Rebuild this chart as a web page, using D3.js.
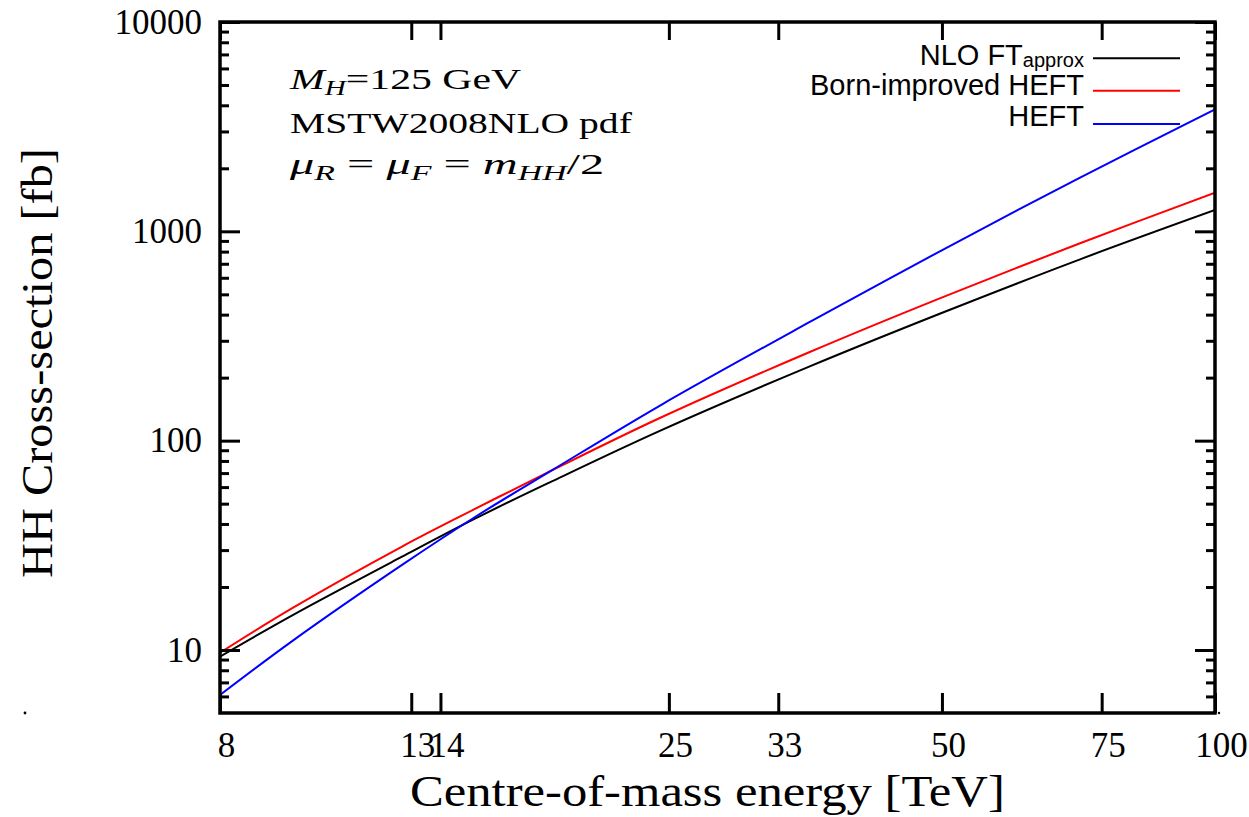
<!DOCTYPE html>
<html>
<head>
<meta charset="utf-8">
<script src="https://cdn.jsdelivr.net/npm/d3@7"></script>
<style>
  html, body { margin: 0; padding: 0; background: #fff; }
  svg { display: block; }
</style>
</head>
<body>
<svg id="chart" width="1249" height="817"></svg>
<script>
// ---------------- data ----------------
const energies      = [8, 9.6, 12.7, 15.3, 18.55, 24.5, 35.8, 49.8, 71, 100];       // TeV
const nloFTapprox   = [9.3, 14.6, 27.9, 42.5, 63.7, 112, 227, 405, 735, 1264];      // fb
const bornImproved  = [9.7, 15.8, 31.2, 47.3, 71.9, 129, 266, 480, 877, 1530];      // fb
const heft          = [6.1, 11.0, 25.5, 43.3, 71.9, 148, 370, 805, 1806, 3828];     // fb

const xTickValues = [8, 13, 14, 25, 33, 50, 75, 100];
const yMajorTicks = [10, 100, 1000, 10000];
const yMinorTicks = [6, 7, 8, 9, 20, 30, 40, 50, 60, 70, 80, 90,
                     200, 300, 400, 500, 600, 700, 800, 900,
                     2000, 3000, 4000, 5000, 6000, 7000, 8000, 9000];

const seriesNames  = ["NLO FT", "Born-improved HEFT", "HEFT"];
const seriesColors = ["#000000", "#ff0000", "#0000ff"];
const seriesValues = [nloFTapprox, bornImproved, heft];

// ---------------- layout ----------------
const L = 220, R = 1215, T = 22, B = 713;
const serif = "'Liberation Serif', 'Times New Roman', serif";
const sans  = "'Liberation Sans', Arial, sans-serif";

const svg = d3.select("#chart");
const x = d3.scaleLog().domain([8, 100]).range([L, R]);
const y = d3.scaleLog().domain([5, 10000]).range([B, T]);

function fitWidth(node, w, ax) {
  const cur = node.getBBox().width;
  const s = w / cur;
  d3.select(node).attr("transform", `translate(${ax},0) scale(${s},1) translate(${-ax},0)`);
}

svg.append("defs").append("clipPath").attr("id", "plot")
  .append("rect").attr("x", L).attr("y", T).attr("width", R - L).attr("height", B - T);

// ---------------- curves ----------------
const line = d3.line()
  .x(d => x(d[0]))
  .y(d => y(d[1]))
  .curve(d3.curveCatmullRom.alpha(0.5));

const curves = svg.append("g").attr("clip-path", "url(#plot)");
seriesValues.forEach((vals, i) => {
  curves.append("path")
    .datum(energies.map((e, j) => [e, vals[j]]))
    .attr("d", line)
    .attr("fill", "none")
    .attr("stroke", seriesColors[i])
    .attr("stroke-width", 2);
});

// ---------------- axes ----------------
const axStyle = g => {
  g.select(".domain").remove();
  g.selectAll(".tick line").attr("stroke", "#000").attr("stroke-width", 3);
};

const gB = svg.append("g").attr("transform", `translate(0,${B})`)
  .call(d3.axisBottom(x).tickValues(xTickValues).tickFormat(d3.format("d")).tickSize(-20).tickPadding(19))
  .call(axStyle);
gB.selectAll(".tick text")
  .attr("font-family", serif).attr("font-size", 35).attr("fill", "#000").attr("x", 6);

svg.append("g").attr("transform", `translate(0,${T})`)
  .call(d3.axisTop(x).tickValues(xTickValues).tickFormat("").tickSize(-18))
  .call(axStyle);

const gL = svg.append("g").attr("transform", `translate(${L},0)`)
  .call(d3.axisLeft(y).tickValues(yMajorTicks).tickFormat(d3.format("d")).tickSize(-20).tickPadding(18))
  .call(axStyle);
gL.selectAll(".tick text")
  .attr("font-family", serif).attr("font-size", 35).attr("fill", "#000");
svg.append("g").attr("transform", `translate(${L},0)`)
  .call(d3.axisLeft(y).tickValues(yMinorTicks).tickFormat("").tickSize(-9))
  .call(axStyle);

svg.append("g").attr("transform", `translate(${R},0)`)
  .call(d3.axisRight(y).tickValues(yMajorTicks).tickFormat("").tickSize(-20))
  .call(axStyle);
svg.append("g").attr("transform", `translate(${R},0)`)
  .call(d3.axisRight(y).tickValues(yMinorTicks).tickFormat("").tickSize(-9))
  .call(axStyle);

svg.append("rect").attr("x", L).attr("y", T).attr("width", R - L).attr("height", B - T)
  .attr("fill", "none").attr("stroke", "#000").attr("stroke-width", 3.5);

svg.append("circle").attr("cx", 25).attr("cy", 713).attr("r", 1.4).attr("fill", "#000");
svg.append("circle").attr("cx", 1219).attr("cy", 713).attr("r", 1.2).attr("fill", "#000");

// ---------------- axis titles ----------------
const xt = svg.append("text")
  .attr("x", 410).attr("y", 806)
  .attr("font-family", serif).attr("font-size", 45).attr("fill", "#000")
  .text("Centre-of-mass energy [TeV]");
fitWidth(xt.node(), 595, 410);

const yt = svg.append("text")
  .attr("x", 0).attr("y", 0)
  .attr("font-family", serif).attr("font-size", 45).attr("fill", "#000")
  .text("HH Cross-section [fb]");
{
  const w = yt.node().getComputedTextLength();
  const s = 430 / w;
  yt.attr("transform", `translate(52,578) rotate(-90) scale(${s},1)`);
}

// ---------------- annotation ----------------
const ann = svg.append("g").attr("font-family", serif).attr("fill", "#000");
const a1 = ann.append("text").attr("x", 290).attr("y", 89).attr("font-size", 30);
a1.append("tspan").attr("font-style", "italic").text("M");
a1.append("tspan").attr("font-style", "italic").attr("font-size", 21).attr("dy", 6).text("H");
a1.append("tspan").attr("dy", -6).text("=125 GeV");
fitWidth(a1.node(), 233, 290);

const a2 = ann.append("text").attr("x", 290).attr("y", 133).attr("font-size", 30)
  .text("MSTW2008NLO pdf");
fitWidth(a2.node(), 342, 290);

const a3 = ann.append("text").attr("x", 290).attr("y", 174).attr("font-size", 30);
a3.append("tspan").attr("font-style", "italic").text("μ");
a3.append("tspan").attr("font-style", "italic").attr("font-size", 21).attr("dy", 6).text("R");
a3.append("tspan").attr("dy", -6).text(" = ");
a3.append("tspan").attr("font-style", "italic").text("μ");
a3.append("tspan").attr("font-style", "italic").attr("font-size", 21).attr("dy", 6).text("F");
a3.append("tspan").attr("dy", -6).text(" = ");
a3.append("tspan").attr("font-style", "italic").text("m");
a3.append("tspan").attr("font-style", "italic").attr("font-size", 21).attr("dy", 6).text("HH");
a3.append("tspan").attr("dy", -6).text("/2");
fitWidth(a3.node(), 316, 290);

// ---------------- legend ----------------
const legRows = [
  { baseline: 64.5, lineY: 58.3 },
  { baseline: 95,   lineY: 90.7 },
  { baseline: 126,  lineY: 124 }
];
const leg = svg.append("g").attr("font-family", sans).attr("fill", "#000");
seriesNames.forEach((name, i) => {
  const t = leg.append("text")
    .attr("x", 1084).attr("y", legRows[i].baseline)
    .attr("text-anchor", "end").attr("font-size", 29);
  t.append("tspan").text(name);
  if (i === 0) {
    t.append("tspan").attr("font-size", 20).attr("dy", 2).text("approx");
  }
  leg.append("line")
    .attr("x1", 1093).attr("x2", 1180)
    .attr("y1", legRows[i].lineY).attr("y2", legRows[i].lineY)
    .attr("stroke", seriesColors[i]).attr("stroke-width", 2);
});
</script>
</body>
</html>
